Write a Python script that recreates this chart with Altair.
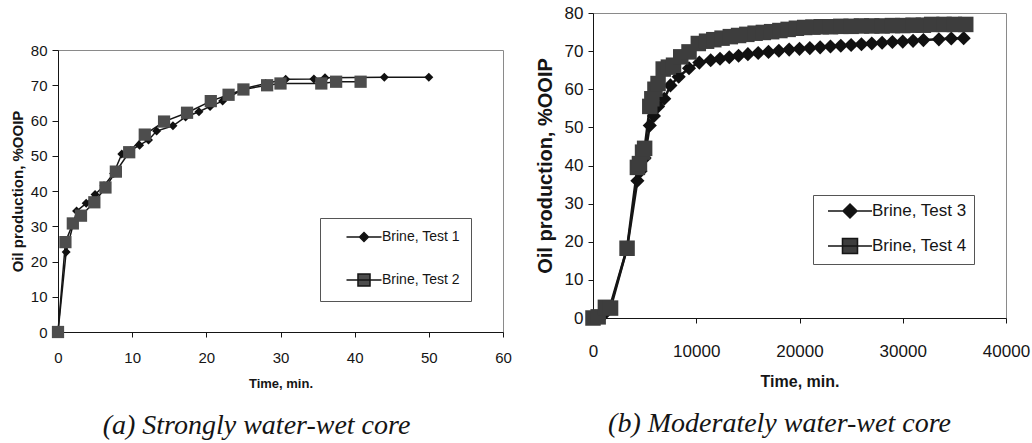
import altair as alt
import pandas as pd

# ---------------- data ----------------
a_names = ["Brine, Test 1", "Brine, Test 2"]
a_t1 = [0, 1.1, 2.5, 3.8, 5.0, 6.2, 7.5, 8.6, 9.8, 11.0, 12.2, 13.3, 15.5, 17.2, 19.0, 20.5, 22.2, 25.0, 28.0, 30.7, 34.5, 36.0, 44.0, 50.0]
a_v1 = [0, 22.7, 34.3, 36.5, 39.0, 41.5, 45.0, 50.5, 51.5, 53.0, 54.5, 57.0, 58.5, 61.0, 62.5, 64.0, 65.5, 69.0, 70.5, 71.7, 71.8, 72.1, 72.3, 72.3]
a_t2 = [0, 1.0, 2.0, 3.1, 4.9, 6.4, 7.8, 9.6, 11.7, 14.3, 17.4, 20.6, 23.0, 25.0, 28.2, 30.0, 35.5, 37.5, 40.8]
a_v2 = [0, 25.5, 30.8, 33.0, 36.8, 41.0, 45.5, 51.0, 56.0, 59.7, 62.2, 65.5, 67.3, 68.8, 70.0, 70.5, 70.5, 71.0, 71.0]

b_names = ["Brine, Test 3", "Brine, Test 4"]
b_t3 = [0, 500, 1000, 1600, 3300, 4300, 4600, 5000, 5500, 5900, 6300, 6900, 7500, 8300, 9300, 10300,
        11400, 12300, 13200, 14100, 15000, 16000, 17000, 18000, 19000, 20000, 21000, 22000, 23000,
        24000, 25000, 26000, 27000, 28000, 29000, 30000, 31000, 32000, 33500, 34700, 35900]
b_v3 = [0, 0.2, 0.8, 2.5, 18.3, 36.0, 38.5, 42.0, 50.5, 53.0, 55.5, 57.5, 61.0, 63.3, 65.5, 67.0,
        67.6, 68.0, 68.4, 68.8, 69.2, 69.5, 69.8, 70.1, 70.4, 70.6, 70.8, 71.0, 71.2,
        71.4, 71.6, 71.8, 72.0, 72.2, 72.4, 72.5, 72.7, 72.9, 73.1, 73.3, 73.4]
b_t4 = [0, 500, 1200, 1700, 3300, 4300, 4500, 4800, 5000, 5500, 5700, 6000, 6300, 6800, 7300, 7800,
        8500, 9300, 10200, 11000, 11700, 12500, 13300, 14100, 14900, 15700, 16500, 17300, 18100,
        18900, 19700, 20500, 21300, 22100, 23000, 24000, 25000, 26000, 27000, 28000, 29000, 30000,
        31000, 32000, 32800, 34000, 35000, 36100]
b_v4 = [0, 0.3, 2.8, 2.6, 18.3, 39.5, 40.5, 43.5, 44.5, 55.5, 57.5, 60.0, 61.5, 65.3, 65.8, 66.3,
        68.5, 69.8, 72.0, 72.6, 73.0, 73.4, 73.8, 74.1, 74.4, 74.7, 74.9, 75.1, 75.4,
        75.7, 76.0, 76.2, 76.3, 76.4, 76.4, 76.5, 76.5, 76.6, 76.6, 76.6, 76.7, 76.7,
        76.8, 76.8, 77.0, 77.0, 77.0, 77.0]

captions = ["(a) Strongly water-wet core", "(b) Moderately water-wet core"]
x_title = "Time, min."
y_title = "Oil production, %OOIP"
a_xticks = [0, 10, 20, 30, 40, 50, 60]
b_xticks = [0, 10000, 20000, 30000, 40000]
y_ticks = [0, 10, 20, 30, 40, 50, 60, 70, 80]

SANS = "Liberation Sans"
SERIF = "Liberation Serif"
INK = "#151515"


def frame(names, ts_list, vs_list):
    parts = [pd.DataFrame({"t": ts, "v": vs, "series": n}) for n, ts, vs in zip(names, ts_list, vs_list)]
    return pd.concat(parts, ignore_index=True)


def panel(df, names, xdom, xticks, w, h, st):
    x = alt.X("t:Q", scale=alt.Scale(domain=xdom, nice=False, zero=False),
              axis=alt.Axis(values=xticks, title=x_title, grid=False, format="d",
                            domainColor=INK, tickColor=INK, tickSize=5, labelPadding=st["xlp"],
                            labelFont=SANS, labelFontSize=st["lab"], labelColor=INK,
                            labelFlush=False, labelOverlap=False,
                            titleFont=SANS, titleFontSize=st["xt"], titleFontWeight="bold",
                            titleColor=INK, titlePadding=st["xtp"]))
    y = alt.Y("v:Q", scale=alt.Scale(domain=[0, 80], nice=False, zero=False),
              axis=alt.Axis(values=y_ticks, title=y_title, grid=False,
                            domainColor=INK, tickColor=INK, tickSize=st["ytick"], labelPadding=st["ylp"],
                            labelFont=SANS, labelFontSize=st["lab"], labelColor=INK,
                            labelFlush=False,
                            titleFont=SANS, titleFontSize=st["yt"], titleFontWeight="bold",
                            titleColor=INK, titlePadding=st["ytp"]))
    base = alt.Chart(df).encode(x=x, y=y)
    lines = base.mark_line(color=INK, strokeWidth=st["lw"]).encode(detail="series:N")
    p1 = base.transform_filter(alt.datum.series == names[0]).mark_point(
        shape="diamond", filled=True, size=st["ds"], color="#111111", opacity=1)
    p2 = base.transform_filter(alt.datum.series == names[1]).mark_point(
        shape="square", filled=True, size=st["ss"], color=st["sqc"], opacity=1)
    legend = alt.Legend(title=None, orient="none", legendX=st["lx"], legendY=st["ly"],
                        direction="vertical", strokeColor="#555555", fillColor="white",
                        padding=st["lpad"], rowPadding=st["lrow"], symbolSize=st["lsym"],
                        symbolOffset=st["lsoff"], labelOffset=st["lloff"],
                        symbolStrokeWidth=1.5, symbolStrokeColor=INK,
                        labelFont=SANS, labelFontSize=st["llab"], labelColor=INK)
    leg = base.transform_filter("false").mark_point(filled=True, opacity=1, stroke=INK, strokeWidth=1.5).encode(
        shape=alt.Shape("series:N", scale=alt.Scale(domain=names, range=[st["dpath"], st["spath"]]), legend=legend),
        color=alt.Color("series:N", scale=alt.Scale(domain=names, range=["#111111", st["sqc"]]), legend=legend),
    )
    return alt.layer(lines, p1, p2, leg).properties(
        width=w, height=h,
        title=alt.TitleParams(st["cap"], orient="bottom", anchor="middle", font=SERIF,
                              fontStyle="italic", fontWeight="normal", fontSize=28,
                              color=INK, offset=st["capoff"], dx=st["capdx"]))


a_style = dict(xlp=13, lab=15, xt=13, xtp=12, ytick=6, ylp=5, yt=15, ytp=5, lw=1.5,
               ds=81, ss=150, sqc="#4d4d4d", lx=262, ly=205, lpad=11, lrow=25, lsym=196,
               lsoff=25, lloff=10, llab=14,
               dpath="M-2.5,0H2.5M0,-0.64L0.64,0L0,0.64L-0.64,0Z",
               spath="M-2.5,0H2.5M-0.86,-0.86H0.86V0.86H-0.86Z",
               cap=captions[0], capoff=22, capdx=-24)
b_style = dict(xlp=20, lab=17, xt=16, xtp=14, ytick=5, ylp=5, yt=20, ytp=9, lw=2.5,
               ds=200, ss=240, sqc="#3d3d3d", lx=220, ly=182, lpad=7, lrow=14, lsym=256,
               lsoff=21, lloff=13, llab=17,
               dpath="M-2.75,0H2.75M0,-0.875L0.875,0L0,0.875L-0.875,0Z",
               spath="M-2.75,0H2.75M-0.94,-0.94H0.94V0.94H-0.94Z",
               cap=captions[1], capoff=21, capdx=-20)

left = panel(frame(a_names, [a_t1, a_t2], [a_v1, a_v2]), a_names, [0, 60], a_xticks, 445, 282, a_style)
right = panel(frame(b_names, [b_t3, b_t4], [b_v3, b_v4]), b_names, [0, 40000], b_xticks, 413, 305, b_style)

# empty band that lowers panel (a) relative to panel (b), as in the reference
spacer = alt.Chart(pd.DataFrame({"s": [0]})).mark_rule(opacity=0).encode(
    x=alt.value(0), y=alt.value(0), y2=alt.value(1)
).properties(width=445, height=28, view=alt.ViewBackground(stroke="transparent"))

left_wrapped = alt.vconcat(spacer, left, spacing=0)

chart = alt.hconcat(left_wrapped, right, spacing=22).resolve_scale(
    color="independent", shape="independent"
).properties(
    padding={"left": 9, "top": 3, "right": 0, "bottom": 0},
    background="white",
).configure_view(stroke="#8a8a8a", strokeWidth=1)

chart.save("out.html", embed_options={"renderer": "svg", "actions": False})
